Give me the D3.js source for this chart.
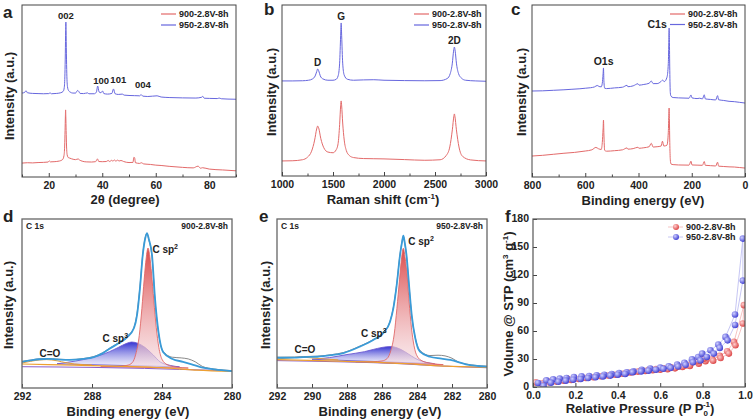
<!DOCTYPE html>
<html>
<head>
<meta charset="utf-8">
<script src="https://cdn.jsdelivr.net/npm/d3@7"></script>
<style>
  body { margin: 0; background: #fff; }
  text { font-family: "Liberation Sans", Arial, sans-serif; font-weight: bold; fill: #222; }
</style>
</head>
<body>
<svg id="fig" width="755" height="420"></svg>
<script>
// ---- data (intensities in arbitrary units, 0-100 of the frame) ----
var seriesNames = ["900-2.8V-8h", "950-2.8V-8h"];

// a: XRD, 2theta (deg) vs intensity
var xrd900 = [[10,8.1],[12,8.3],[14,8.2],[16,8.4],[18,8.5],[19.8,8.7],[20.2,9.4],[20.6,8.8],[22,8.9],[24,9.3],[25.2,10.2],[25.7,12.5],[25.95,18],[26.1,27],[26.22,35],[26.3,39.0],[26.38,35],[26.5,27],[26.65,18],[26.9,12.8],[27.3,11.3],[27.8,11.0],[28.5,10.6],[29.4,10.2],[30,10.1],[31,10.5],[31.5,9.9],[32.5,9.2],[34,8.8],[36,8.7],[37.5,8.9],[38.2,10.5],[38.7,9.0],[40,8.9],[41.5,9.0],[42.2,9.6],[42.8,9.0],[43.5,9.7],[44.0,9.2],[44.5,9.9],[45.1,9.2],[45.7,9.8],[46.3,9.3],[47,9.6],[48,9.0],[50,8.4],[51.5,8.5],[51.8,11.4],[52.1,11.2],[52.4,8.3],[54,7.9],[54.6,8.3],[55.5,7.6],[58,7.3],[60,6.9],[62,6.7],[65,6.2],[70,5.6],[74,5.3],[75.8,6.3],[76.2,5.9],[76.7,5.1],[77.5,5.4],[80,4.6],[85,4.1],[90,3.6]];
var xrd950 = [[10,48.8],[11,49.2],[11.5,50.2],[12,49.0],[14,48.6],[16,48.5],[18,48.4],[20,48.5],[20.5,48.9],[21,48.4],[23,48.6],[24.5,49.0],[25.4,49.8],[25.8,52],[26.05,60],[26.2,72],[26.32,85],[26.4,90.1],[26.48,85],[26.6,72],[26.75,60],[27.0,52.5],[27.4,50.3],[28,49.4],[29,48.8],[30,48.8],[30.8,50.3],[31.2,49.8],[31.7,48.6],[33,48.5],[34.5,48.9],[35,48.4],[37,48.4],[37.8,49.3],[38.3,52.9],[38.8,49.5],[39.5,49.0],[40.1,50.0],[40.6,48.5],[42,48.2],[43.6,48.6],[44.2,51.2],[44.8,48.4],[46,48.0],[47.5,48.2],[48.2,47.6],[50,47.4],[52,47.3],[54,47.2],[54.5,47.9],[55.2,47.0],[57,46.8],[60.5,47.2],[62,46.5],[65,46.2],[70,46.0],[75,45.9],[77.2,46.4],[77.6,46.9],[78.1,45.8],[80,45.7],[83,45.6],[83.7,45.9],[84.5,45.5],[87,45.3],[90,45.2]];
var xrdTicks = [20, 40, 60, 80];
var xrdPeaks = [{t: "002", x: 26.4, y: 92}, {t: "100", x: 39.6, y: 54}, {t: "101", x: 46.0, y: 54.5}, {t: "004", x: 55.2, y: 51.5}];

// b: Raman shift (cm-1) vs intensity
var raman900 = [[1000,8.8],[1100,8.9],[1200,9.5],[1250,11],[1290,14.5],[1320,21],[1340,27.5],[1350,29.2],[1360,28],[1380,22],[1410,16.5],[1450,14],[1500,13.6],[1530,15.2],[1550,19],[1565,30],[1575,41],[1580,43.9],[1585,41],[1595,31],[1610,21],[1630,15],[1660,12],[1700,10.8],[1800,10.2],[1900,10.1],[2000,10.0],[2200,9.6],[2400,9.2],[2550,9.5],[2610,12],[2645,17],[2670,27],[2685,35],[2690,36.3],[2695,35],[2710,27],[2735,17],[2770,11.5],[2850,9.4],[3000,8.8]];
var raman950 = [[1000,55.6],[1100,55.6],[1200,55.7],[1260,56.0],[1300,56.8],[1325,58.5],[1340,61.0],[1350,62.6],[1360,61.5],[1375,58.6],[1400,56.8],[1450,56.0],[1500,56.0],[1530,56.5],[1550,58.5],[1565,66],[1575,82],[1580,89.5],[1585,82],[1595,66],[1610,59],[1640,56.6],[1700,56.0],[1800,56.2],[1900,56.3],[2000,56.0],[2200,55.8],[2400,55.7],[2550,55.8],[2620,57.0],[2650,60],[2670,66],[2682,73],[2690,75.4],[2698,73],[2710,66],[2730,60],[2760,57.2],[2800,56.0],[2900,55.6],[3000,55.4]];
var ramanTicks = [1000, 1500, 2000, 2500, 3000];
var ramanPeaks = [{t: "D", x: 1350, y: 64.5}, {t: "G", x: 1580, y: 91}, {t: "2D", x: 2690, y: 77}];

// c: XPS survey, binding energy (eV) vs intensity
var xps900 = [[800,12.2],[760,12.6],[720,13.2],[680,13.8],[640,14.3],[600,15.1],[575,15.8],[560,17.2],[550,16.4],[540,16.0],[536,20],[533,28],[531.5,33.1],[530,25],[527,15.5],[520,15.0],[490,15.3],[460,15.8],[443,16.9],[440,16.2],[420,16.5],[402,17.3],[398,16.7],[380,17.0],[360,17.6],[352,19.6],[345,17.4],[330,17.6],[315,18.0],[310,20.8],[305,18.0],[293,18.5],[288,26],[286,37],[285,40.1],[284,34],[282.5,20],[280.5,10],[278,7.6],[270,7.2],[250,7.0],[210,6.9],[203,9.2],[199,7.0],[180,6.9],[160,6.8],[153,9.0],[149,6.8],[130,6.6],[110,6.4],[103,8.6],[99,6.3],[80,6.1],[60,5.9],[40,5.8],[20,5.5],[0,5.2]];
var xps950 = [[800,50.0],[760,50.1],[720,50.4],[680,50.7],[650,51.0],[620,51.3],[600,51.6],[580,51.9],[565,52.4],[555,53.2],[548,52.6],[540,52.4],[536,54.5],[533,60],[531.5,63.4],[530,56],[527,51.6],[520,51.4],[490,51.8],[460,52.2],[443,53.3],[440,52.5],[420,53.0],[402,54.2],[398,53.4],[380,53.8],[360,54.5],[352,55.8],[345,54.3],[330,54.3],[315,55.6],[310,56.3],[303,55.5],[293,58],[288,66],[286,80],[285,86.6],[284,80],[282.5,62],[280.5,49],[278,47.0],[270,46.2],[250,46.0],[210,45.8],[203,47.7],[199,46.0],[180,45.6],[170,45.8],[160,45.4],[153,47.8],[149,45.4],[130,45.1],[110,44.8],[103,47.3],[99,44.9],[80,44.5],[60,44.0],[40,43.8],[20,43.4],[0,43.0]];
var surveyTicks = [800, 600, 400, 200, 0];
var surveyPeaks = [{t: "O1s", x: 531, y: 65}, {t: "C1s", x: 330, y: 86.5}];

// d: C 1s fit, 900-2.8V-8h
var dRaw = [[292,15.8],[291.5,16.5],[291,17.3],[290.5,17.4],[290,17.1],[289.3,16.8],[288.5,17.4],[287.9,18.6],[287.4,20.8],[287,23.5],[286.4,27.4],[286,30.5],[285.6,36],[285.43,44],[285.26,60],[285.1,79],[284.97,88.5],[284.86,91.5],[284.75,87.5],[284.57,77.5],[284.4,52],[284.2,32.5],[283.94,21.8],[283.4,18.2],[282.9,17.8],[282.5,17.2],[282.1,15.5],[281.7,12.8],[281,11.2],[280,10.3]];
var dEnv = [[292,15.4],[291.5,16.3],[291,17.0],[290.5,17.2],[290,16.9],[289.3,16.6],[288.5,17.2],[287.9,18.3],[287.4,20.5],[287,23.2],[286.4,27],[286,30],[285.6,35.5],[285.43,43],[285.26,59],[285.1,78.7],[284.97,88],[284.86,91.7],[284.75,88],[284.57,78.7],[284.4,53],[284.2,33],[283.94,21.3],[283.4,17.2],[282.8,15.5],[282.3,14.0],[281.8,12.4],[281,11],[280,10]];
var dSp2 = [[287.5,12.6],[286.5,12.8],[286,13.4],[285.7,15],[285.5,20],[285.3,31],[285.15,47],[285.02,64],[284.9,77],[284.8,82.8],[284.7,78],[284.6,68],[284.47,52],[284.33,36],[284.18,24],[284.0,17],[283.7,13.8],[283.2,12.4],[282.5,11.8]];
var dSp3 = [[290,14.3],[289.4,15.2],[288.5,16.8],[287.5,19.5],[287,21.5],[286.5,24],[286,26.5],[285.73,27.2],[285.4,26.5],[285,24.2],[284.5,19.5],[284.1,15.4],[283.5,13.3],[283,12.5]];
var dCO = [[292,14.8],[291.5,15.8],[291,16.6],[290.6,16.8],[290,16.1],[289.5,15.0],[289,14.2],[288,13.6]];
var dBg = [[292,14.2],[289,13.5],[286,12.8],[284,12.0],[283,11.3],[282,10.6],[280,9.8]];
var dBg2 = [[292,12.6],[288,12.2],[285,11.6],[283,11.0],[280,10.2]];

// e: C 1s fit, 950-2.8V-8h
var eRaw = [[292,18.2],[291,18.3],[290.5,18.6],[289.7,18.8],[288.9,19.7],[288.2,21.0],[287.26,24.8],[286.5,28.7],[285.93,33],[285.54,39.6],[285.35,47.8],[285.16,61.5],[284.97,79],[284.86,86.5],[284.78,89.8],[284.7,85.5],[284.6,78],[284.44,58.5],[284.3,42.5],[284.1,29.8],[283.83,22.2],[283.26,19.2],[282.8,19.4],[282.4,19.0],[282,17.6],[281.6,15.2],[281.2,14.2],[280,12.9]];
var eEnv = [[292,17.9],[291,18.0],[290.5,18.3],[289.7,18.5],[288.9,19.4],[288.2,20.7],[287.26,24.5],[286.5,28.4],[285.93,32.5],[285.54,39.2],[285.35,47.3],[285.16,60.9],[284.97,78.7],[284.86,86],[284.78,90.1],[284.7,86],[284.6,78.7],[284.44,59],[284.3,43],[284.1,29.6],[283.83,21.5],[283.26,18.5],[282.6,17.4],[282.1,16.6],[281.2,14],[280,12.6]];
var eSp2 = [[287.5,15.5],[286.5,15.6],[286,16],[285.7,17.5],[285.5,22],[285.3,32],[285.15,47],[285.0,64],[284.88,77],[284.78,82.7],[284.68,77],[284.57,67],[284.45,51],[284.32,36],[284.17,25],[284,19],[283.7,16],[283.2,14.6],[282.5,13.8]];
var eSp3 = [[290,17.0],[289,18.0],[288,19.8],[287,21.5],[286.5,22.8],[286,24],[285.5,24.5],[285.1,23.6],[284.7,21.5],[284.3,18.8],[284,17],[283.5,15.2],[283,14.4]];
var eCO = [[292,17.2],[291.3,17.8],[290.6,18.2],[290,17.8],[289.3,17.2],[288.5,16.6]];
var eBg = [[292,16.8],[289,16.0],[286,15.0],[284,14.0],[283,13.2],[282,12.8],[280,12.2]];
var eBg2 = [[292,16.2],[288,15.4],[285,14.4],[283,13.2],[280,12.0]];
var c1sTicksD = [292, 288, 284, 280];
var c1sTicksE = [292, 290, 288, 286, 284, 282, 280];

// f: N2 isotherms, P/P0 vs volume (cm3/g)
var bet900Ads = [[0.012,5],[0.06,6],[0.09,7],[0.125,8],[0.16,9],[0.195,9.5],[0.23,10],[0.265,10.8],[0.30,11.5],[0.335,12.3],[0.37,13],[0.405,14],[0.44,15],[0.475,16],[0.51,17.5],[0.545,18.5],[0.58,19.2],[0.615,20],[0.65,21],[0.685,22],[0.72,23],[0.742,24],[0.782,25],[0.814,27.6],[0.845,29.7],[0.881,33.3],[0.916,38.3],[0.948,48.3],[0.995,87.7]];
var bet900Des = [[0.99,68],[0.955,44.7],[0.924,35.8],[0.885,31],[0.85,28.2],[0.806,30.4],[0.774,27.6],[0.74,22.5],[0.705,21.5],[0.67,20],[0.635,19],[0.60,18.5],[0.565,18],[0.53,17.2],[0.495,16.5],[0.46,15.5],[0.425,14.2],[0.39,13.2],[0.355,12.3],[0.32,11.5],[0.285,10.5],[0.25,9.6],[0.215,8.6],[0.18,7.6],[0.145,6.8],[0.11,5.8],[0.075,5.0],[0.04,3.8]];
var bet950Ads = [[0.024,4.3],[0.063,7.1],[0.095,8.2],[0.126,9.0],[0.158,9.7],[0.193,10.7],[0.229,11.5],[0.265,11.8],[0.30,12.5],[0.336,13.2],[0.371,14.0],[0.406,15.0],[0.442,15.7],[0.474,16.8],[0.513,18.3],[0.553,19.7],[0.60,20.8],[0.64,22.2],[0.68,24.0],[0.714,26.0],[0.75,29.7],[0.779,32.2],[0.798,35.8],[0.837,39.4],[0.874,45.5],[0.908,53.7],[0.953,77.7],[0.99,159]];
var bet950Des = [[0.99,114],[0.953,66.5],[0.918,50],[0.881,41.9],[0.853,35.8],[0.82,32.2],[0.79,28.5],[0.755,26.5],[0.72,23.8],[0.685,22],[0.65,20.5],[0.615,19.5],[0.58,18.5],[0.545,17.5],[0.51,16.7],[0.47,15.8],[0.435,14],[0.40,13.2],[0.365,12.2],[0.33,11.3],[0.295,10.4],[0.26,9.6],[0.225,8.5],[0.19,7.8],[0.155,6.8],[0.12,5.6],[0.085,4.6],[0.05,1.2]];
var betXTicks = [0, 0.2, 0.4, 0.6, 0.8, 1.0];
var betYTicks = [0, 30, 60, 90, 120, 150, 180];

// ---- drawing ----
var svg = d3.select("#fig");
var RED = "#e36a6a", BLUE = "#6767de";
var defs = svg.append("defs");
var clipId = 0;

function grad(id, top, bottom, opTop, opBot) {
    var lg = defs.append("linearGradient").attr("id", id).attr("x1", 0).attr("y1", 0).attr("x2", 0).attr("y2", 1);
    lg.append("stop").attr("offset", "0%").attr("stop-color", top).attr("stop-opacity", opTop);
    lg.append("stop").attr("offset", "100%").attr("stop-color", bottom).attr("stop-opacity", opBot);
}
grad("sp2grad", "#dc4a4a", "#f6dde2", 1, 0.6);
grad("sp3grad", "#3434d2", "#ebe8f8", 1, 0.6);

function ball(id, light, dark) {
    var rg = defs.append("radialGradient").attr("id", id).attr("cx", "35%").attr("cy", "35%").attr("r", "65%");
    rg.append("stop").attr("offset", "0%").attr("stop-color", light);
    rg.append("stop").attr("offset", "100%").attr("stop-color", dark);
}
ball("ballRed", "#ffd0d0", "#dd4a4a");
ball("ballBlue", "#d0d0ff", "#4444d4");

function styleAxis(a) {
    a.select(".domain").remove();
    a.selectAll("line").attr("stroke", "#444");
    a.selectAll("text").attr("font-size", "10.5px").attr("fill", "#222")
        .style("font-family", "'Liberation Sans', Arial, sans-serif").style("font-weight", "bold");
}

// builds frame, scales and bottom axis for one panel
function panel(box, xdom, ydom, xticks, xminor, fmt) {
    var p = {};
    p.x = d3.scaleLinear().domain(xdom).range([box.l, box.r]);
    p.y = d3.scaleLinear().domain(ydom).range([box.b, box.t]);
    p.g = svg.append("g");
    clipId++;
    defs.append("clipPath").attr("id", "clip" + clipId)
        .append("rect").attr("x", box.l).attr("y", box.t).attr("width", box.r - box.l).attr("height", box.b - box.t);
    p.plot = p.g.append("g").attr("clip-path", "url(#clip" + clipId + ")");

    if (xminor) {
        p.g.append("g").attr("transform", "translate(0," + box.b + ")")
            .call(d3.axisBottom(p.x).tickValues(xminor).tickSize(-2.5).tickFormat(""))
            .call(styleAxis);
    }
    p.g.append("g").attr("transform", "translate(0," + box.b + ")")
        .call(d3.axisBottom(p.x).tickValues(xticks).tickSize(-4).tickPadding(5).tickFormat(fmt || d3.format("d")))
        .call(styleAxis);
    p.box = box;
    return p;
}

function frame(p, col, w) {
    var b = p.box;
    p.g.append("rect").attr("x", b.l).attr("y", b.t).attr("width", b.r - b.l).attr("height", b.b - b.t)
        .attr("fill", "none").attr("stroke", col || "#444").attr("stroke-width", w || 1);
}

function trace(p, data, col, w, curve) {
    var line = d3.line().x(function(d) { return p.x(d[0]); }).y(function(d) { return p.y(d[1]); })
        .curve(curve || d3.curveMonotoneX);
    return p.plot.append("path").datum(data).attr("d", line).attr("fill", "none")
        .attr("stroke", col).attr("stroke-width", w || 1);
}

function filled(p, data, fill, edge) {
    var line = d3.line().x(function(d) { return p.x(d[0]); }).y(function(d) { return p.y(d[1]); })
        .curve(d3.curveMonotoneX);
    p.plot.append("path").datum(data).attr("d", line(data) + "Z")
        .attr("fill", fill).attr("stroke", edge).attr("stroke-width", 0.9);
}

function label(x, y, txt, size, anchor) {
    return svg.append("text").attr("x", x).attr("y", y).attr("font-size", size + "px")
        .attr("text-anchor", anchor || "start").text(txt);
}

// parts: [text, dy, dx, fontSize]
function addParts(t, parts) {
    parts.forEach(function(s) {
        var ts = t.append("tspan").text(s[0]);
        if (s[1]) ts.attr("dy", s[1]);
        if (s[2]) ts.attr("dx", s[2]);
        if (s[3]) ts.attr("font-size", s[3] + "px");
    });
    return t;
}

function yTitle(x, y, parts) {
    var t = svg.append("text").attr("transform", "translate(" + x + "," + y + ") rotate(-90)")
        .attr("text-anchor", "middle").attr("font-size", "13px");
    return addParts(t, parts);
}

function xTitle(x, y, parts) {
    var t = svg.append("text").attr("x", x).attr("y", y).attr("text-anchor", "middle").attr("font-size", "13px");
    return addParts(t, parts);
}

function lineLegend(x, y, gap, marker) {
    [RED, BLUE].forEach(function(c, i) {
        var yy = y + i * gap;
        svg.append("line").attr("x1", x).attr("x2", x + 15).attr("y1", yy).attr("y2", yy)
            .attr("stroke", marker ? (i ? "#b8b8f0" : "#f2b4b4") : c).attr("stroke-width", marker ? 0.8 : 1.2);
        if (marker) svg.append("circle").attr("cx", x + 8).attr("cy", yy).attr("r", 3)
            .attr("fill", i ? "url(#ballBlue)" : "url(#ballRed)");
        label(x + 18, yy + 3.3, seriesNames[i], 9);
    });
}

// a
var pa = panel({l: 22, r: 236, t: 5, b: 177}, [10, 90], [0, 100], xrdTicks, [10, 30, 50, 70, 90]);
trace(pa, xrd900, RED, 1);
trace(pa, xrd950, BLUE, 1);
frame(pa);
xrdPeaks.forEach(function(k) { label(pa.x(k.x), pa.y(k.y), k.t, 9.5, "middle"); });
lineLegend(161, 14, 11);
label(3, 18, "a", 17);
yTitle(14, 96, [["Intensity (a.u.)"]]);
xTitle(125, 204, [["2\u03b8 (degree)"]]);

// b
var pb = panel({l: 282, r: 486, t: 5, b: 176}, [1000, 3000], [0, 100], ramanTicks, [1250, 1750, 2250, 2750]);
trace(pb, raman900, RED, 1);
trace(pb, raman950, BLUE, 1);
frame(pb);
ramanPeaks.forEach(function(k) { label(pb.x(k.x), pb.y(k.y), k.t, 10, "middle"); });
lineLegend(414, 14, 11);
label(264, 15, "b", 17);
yTitle(276, 92, [["Intensity (a.u.)"]]);
xTitle(383, 204, [["Raman shift (cm"], ["-1", -5, 0, 8], [")", 5, 0, 13]]);

// c
var pc = panel({l: 532, r: 745, t: 5, b: 177}, [800, 0], [0, 100], surveyTicks, [700, 500, 300, 100]);
trace(pc, xps900, RED, 1);
trace(pc, xps950, BLUE, 1);
frame(pc);
surveyPeaks.forEach(function(k) { label(pc.x(k.x), pc.y(k.y), k.t, 10.5, "middle"); });
lineLegend(670, 14, 10.5);
label(511, 15, "c", 17);
yTitle(526, 92, [["Intensity (a.u.)"]]);
xTitle(643, 205, [["Binding energy (eV)"]]);

// d, e: C 1s
function c1s(box, ticks, raw, env, sp2, sp3, co, bg, bg2, name, pos) {
    var p = panel(box, [292, 280], [0, 100], ticks, null);
    filled(p, sp3, "url(#sp3grad)", "#6a58d0");
    filled(p, sp2, "url(#sp2grad)", "#e06868");
    trace(p, co, "#e8a038", 1);
    trace(p, bg2, "#8a5cc8", 1);
    trace(p, bg, "#eea030", 1.2);
    trace(p, raw, "#7a7a7a", 0.9);
    trace(p, env, "#3a9bd8", 1.8);
    frame(p, "#666", 1.3);
    label(box.l + 4, box.t + 9.5, "C 1s", 8.5);
    label(box.r - 4, box.t + 9.5, name, 8.5, "end");
    var s2 = label(p.x(pos.sp2[0]), p.y(pos.sp2[1]), "C sp", 10);
    s2.append("tspan").attr("dy", -4).attr("font-size", "7px").text("2");
    var s3 = label(p.x(pos.sp3[0]), p.y(pos.sp3[1]), "C sp", 10);
    s3.append("tspan").attr("dy", -4).attr("font-size", "7px").text("3");
    label(p.x(pos.co[0]), p.y(pos.co[1]), "C=O", 10);
    return p;
}
c1s({l: 22, r: 232, t: 219, b: 388}, c1sTicksD, dRaw, dEnv, dSp2, dSp3, dCO, dBg, dBg2, seriesNames[0],
    {sp2: [284.55, 80], sp3: [287.4, 27], co: [291.0, 18.5]});
label(3, 222, "d", 17);
yTitle(13, 305, [["Intensity (a.u.)"]]);
xTitle(128, 416, [["Binding energy (eV)"]]);

c1s({l: 277, r: 487, t: 219, b: 388}, c1sTicksE, eRaw, eEnv, eSp2, eSp3, eCO, eBg, eBg2, seriesNames[1],
    {sp2: [284.5, 84.5], sp3: [287.2, 30], co: [291.0, 20.5]});
label(259, 222, "e", 17);
yTitle(270, 305, [["Intensity (a.u.)"]]);
xTitle(380, 416, [["Binding energy (eV)"]]);

// f: isotherms
var pf = panel({l: 533, r: 745, t: 219, b: 387}, [0, 1], [0, 180], betXTicks, null, d3.format(".1f"));
pf.g.append("g").attr("transform", "translate(" + pf.box.l + ",0)")
    .call(d3.axisLeft(pf.y).tickValues(betYTicks).tickSize(-4).tickPadding(4))
    .call(styleAxis)
    .call(function(a) { a.selectAll("text").attr("dy", "0.2em"); });
[[bet900Ads, bet900Des, "#f2b4b4", "url(#ballRed)"], [bet950Ads, bet950Des, "#b8b8f0", "url(#ballBlue)"]].forEach(function(s) {
    var loop = s[0].concat(s[1]);
    trace(pf, loop, s[2], 0.8, d3.curveLinear);
    pf.plot.selectAll(null).data(loop).enter().append("circle")
        .attr("cx", function(d) { return pf.x(d[0]); })
        .attr("cy", function(d) { return pf.y(d[1]); })
        .attr("r", 3.3).attr("fill", s[3]);
});
frame(pf, "#555", 1.2);
lineLegend(668, 227, 10, true);
label(505, 222, "f", 17);
yTitle(513, 304, [["Volume @ STP (cm"], ["3", -5, 0, 8], [" g", 5, 0, 13], ["-1", -5, 0, 8], [")", 5, 0, 13]]);
xTitle(640, 413, [["Relative Pressure (P P"], ["0", 3, 0, 8], ["-1", -9, -5, 8], [")", 6, 0, 13]]);
</script>
</body>
</html>
